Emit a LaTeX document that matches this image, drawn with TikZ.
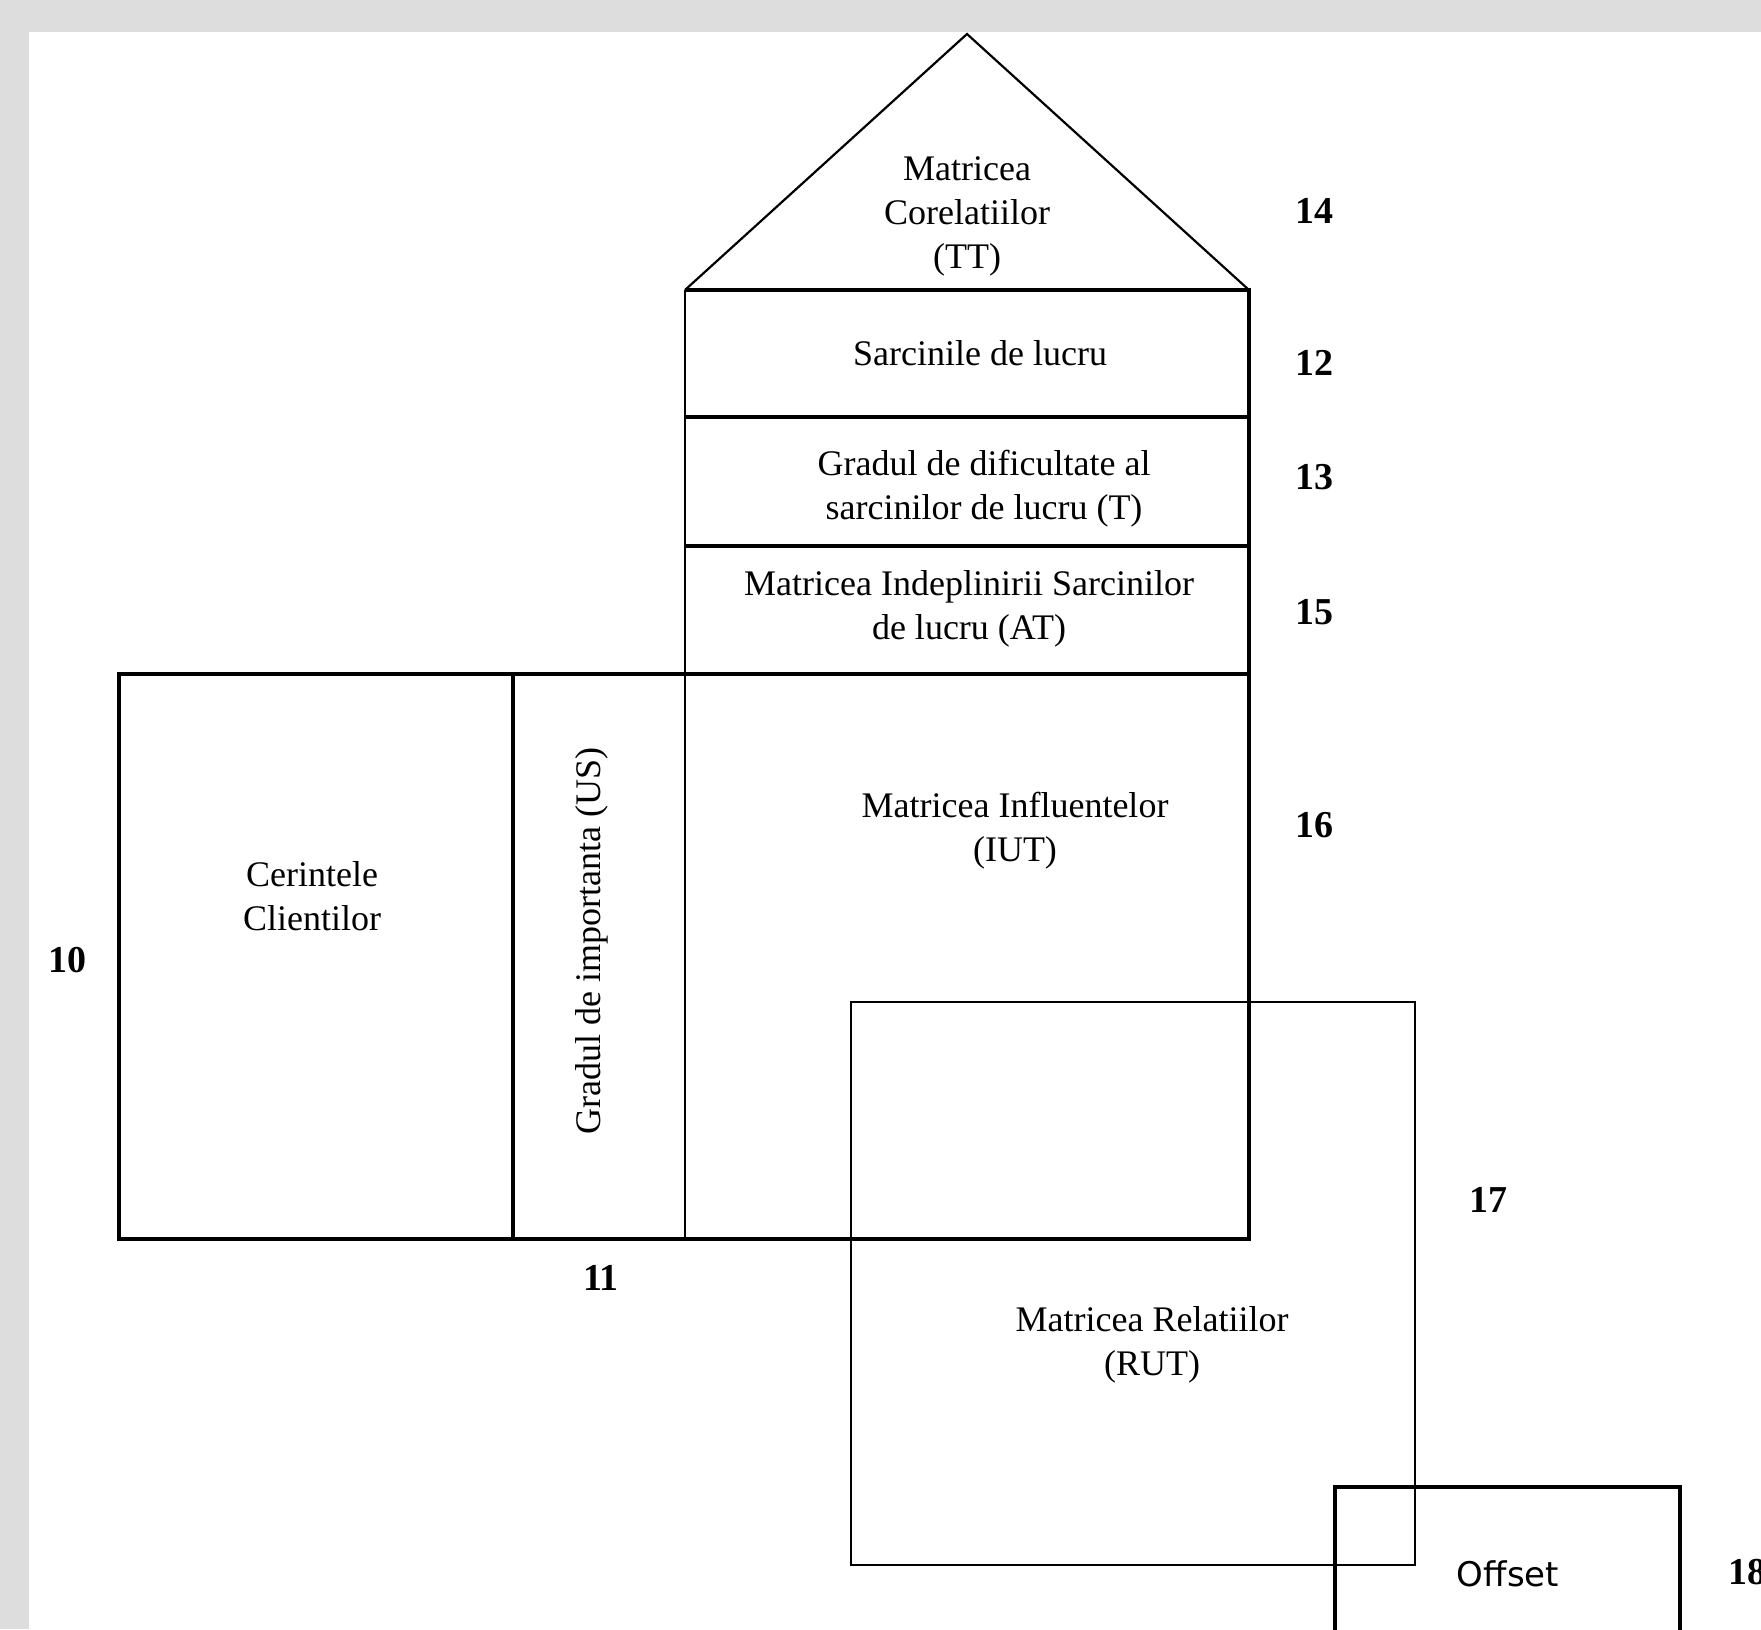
\documentclass[tikz,border=0pt]{standalone}
\usepackage{fontspec}
\setmainfont{Liberation Serif}
\newfontfamily\offsetfont{DejaVu Sans}
\definecolor{bggray}{HTML}{DDDDDD}
\begin{document}
\begin{tikzpicture}[x=0.5pt,y=-0.5pt,
  thickline/.style={line width=1.6pt, line join=miter},
  thinline/.style={line width=1.1pt},
  lbl/.style={align=center, font=\fontsize{18}{22}\selectfont, inner sep=0pt},
  num/.style={font=\fontsize{19}{22}\selectfont\bfseries, inner sep=0pt}]
\fill[bggray] (0,0) rectangle (1761,1629);
\fill[white] (29,32) rectangle (1761,1629);
\useasboundingbox (0,0) rectangle (1761,1629);
% roof
\draw[thinline] (685,290) -- (967,34) -- (1249,290);
% upper column
\draw[thickline] (685,290) -- (1249,290) -- (1249,1239);
\draw[thickline] (685,417) -- (1249,417);
\draw[thickline] (685,546) -- (1249,546);
\draw[thinline] (685,290) -- (685,1239);
% lower block
\draw[thickline] (119,674) rectangle (1249,1239);
\draw[thickline] (513,674) -- (513,1239);
% RUT
\draw[thinline] (851,1002) rectangle (1415,1565);
% Offset
\draw[thickline] (1335,1487) rectangle (1680,1720);
% labels
\node[lbl] (tt) at (967,216) {Matricea\\Corelatiilor\\(TT)};
\node[lbl] (sl) at (980,353) {Sarcinile de lucru};
\node[lbl] (gd) at (984,489) {Gradul de dificultate al\\sarcinilor de lucru (T)};
\node[lbl] (at) at (969,609) {Matricea Indeplinirii Sarcinilor\\de lucru (AT)};
\node[lbl] (iut) at (1015,831) {Matricea Influentelor\\(IUT)};
\node[lbl] (cc) at (312,896) {Cerintele\\Clientilor};
\node[lbl, rotate=90] (us) at (592,941) {Gradul de importanta (US)};
\node[lbl] (rut) at (1152,1345) {Matricea Relatiilor\\(RUT)};
\node[inner sep=0pt, font=\offsetfont\fontsize{17}{20}\selectfont] (off) at (1508,1574) {Offset};
% numbers
\node[num] (n14) at (1314,211) {14};
\node[num] (n12) at (1314,363) {12};
\node[num] (n13) at (1314,477) {13};
\node[num] (n15) at (1314,612) {15};
\node[num] (n16) at (1314,825) {16};
\node[num] (n10) at (67,960) {10};
\node[num] (n11) at (601,1278) {11};
\node[num] (n17) at (1488,1200) {17};
\node[num] (n18) at (1747,1572) {18};
\end{tikzpicture}
\end{document}
